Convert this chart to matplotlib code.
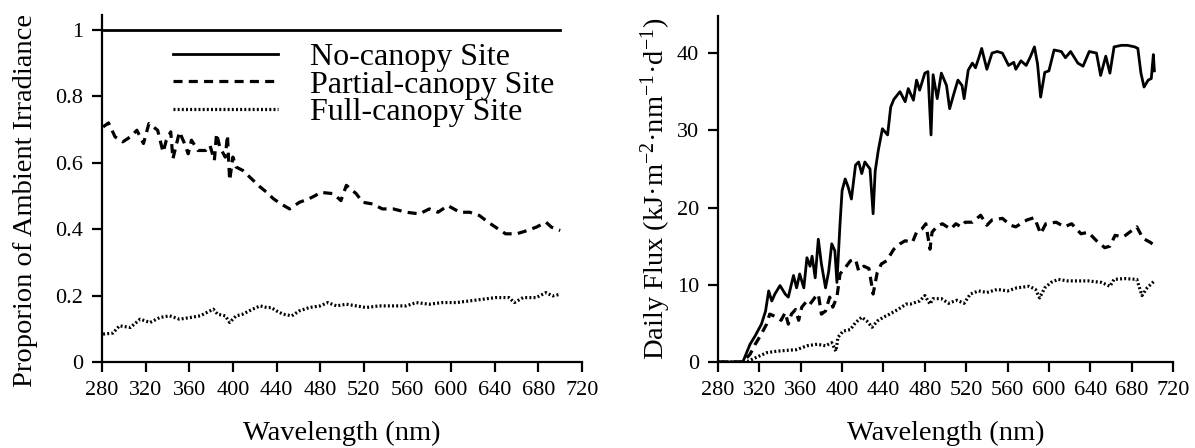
import matplotlib
matplotlib.use("Agg")
import matplotlib.pyplot as plt

plt.rcParams['font.family'] = ['Liberation Serif', 'DejaVu Serif']
plt.rcParams['mathtext.fontset'] = 'custom'
plt.rcParams['mathtext.rm'] = 'Liberation Serif'
plt.rcParams['mathtext.it'] = 'Liberation Serif:italic'
plt.rcParams['lines.scale_dashes'] = False

# ---------------- data ----------------
series_names = ["No-canopy Site", "Partial-canopy Site", "Full-canopy Site"]
xticks = [280, 320, 360, 400, 440, 480, 520, 560, 600, 640, 680, 720]

# Proportion of ambient irradiance
prop_none_wl = [280, 700]
prop_none = [1.0, 1.0]

prop_partial_wl = [281, 286, 292, 299, 306, 312, 318, 323, 327, 331, 336, 339, 343,
                   345, 351, 355, 359, 362, 368, 375, 379, 383, 385, 388, 393, 395,
                   397, 400, 403, 409, 417, 425, 431, 437, 444, 452, 461, 470, 476,
                   480, 492, 499, 504, 513, 519, 528, 537, 547, 559, 571, 580, 588,
                   597, 608, 617, 626, 634, 643, 650, 660, 670, 678, 687, 692, 700]
prop_partial = [0.708, 0.720, 0.678, 0.663, 0.678, 0.698, 0.658, 0.718, 0.708, 0.698,
                0.632, 0.668, 0.693, 0.612, 0.693, 0.663, 0.627, 0.668, 0.637, 0.637,
                0.652, 0.607, 0.688, 0.647, 0.617, 0.683, 0.547, 0.617, 0.587, 0.577,
                0.552, 0.527, 0.511, 0.492, 0.476, 0.461, 0.481, 0.492, 0.502, 0.511,
                0.507, 0.486, 0.532, 0.507, 0.481, 0.476, 0.461, 0.461, 0.451, 0.446,
                0.461, 0.451, 0.471, 0.451, 0.451, 0.441, 0.421, 0.401, 0.386, 0.386,
                0.396, 0.406, 0.421, 0.406, 0.396]

prop_full_wl = [281, 290, 296, 306, 315, 324, 333, 342, 351, 361, 370, 376, 382, 386,
                393, 397, 403, 409, 418, 425, 431, 435, 440, 446, 454, 461, 470, 480,
                487, 495, 504, 513, 522, 534, 547, 559, 568, 580, 592, 605, 617, 629,
                641, 653, 658, 666, 678, 687, 693, 700]
prop_full = [0.084, 0.087, 0.109, 0.104, 0.129, 0.119, 0.134, 0.139, 0.129, 0.134,
             0.139, 0.149, 0.159, 0.144, 0.139, 0.119, 0.139, 0.144, 0.159, 0.169,
             0.164, 0.164, 0.154, 0.144, 0.139, 0.154, 0.164, 0.169, 0.179, 0.169,
             0.174, 0.169, 0.164, 0.169, 0.169, 0.169, 0.179, 0.174, 0.179, 0.179,
             0.184, 0.189, 0.194, 0.194, 0.179, 0.194, 0.194, 0.209, 0.199, 0.204]

# Daily flux (kJ m-2 nm-1 d-1)
flux_none_wl = [280, 300, 304, 311, 316, 322, 326, 329, 332, 335, 340, 345, 348, 353,
                356, 359, 363, 366, 369, 371, 374, 377, 380, 384, 387, 390, 393, 395,
                398, 400, 403, 406, 409, 413, 416, 419, 422, 427, 430, 432, 435, 439,
                444, 447, 450, 456, 461, 464, 469, 472, 475, 480, 483, 486, 488, 492,
                496, 501, 504, 508, 512, 516, 518, 522, 526, 529, 532, 535, 540, 545,
                550, 555, 561, 566, 568, 573, 578, 582, 586, 589, 592, 596, 600, 605,
                612, 616, 621, 628, 633, 639, 646, 650, 655, 659, 663, 670, 676, 683,
                686, 689, 692, 696, 699, 701, 702]
flux_none = [0, 0, 0, 2.3, 3.4, 4.9, 6.6, 9.2, 7.9, 8.8, 9.9, 8.8, 8.4, 11.2,
             9.6, 11.4, 9.6, 13.5, 12.4, 13.7, 10.9, 15.9, 12.7, 9.6, 11.7, 15.3, 14.4, 10.3,
             17.9, 22.2, 23.7, 22.6, 21.1, 25.5, 25.9, 24.4, 25.9, 25.0, 19.2, 24.7, 27.4, 30.2,
             29.4, 33.0, 34.0, 35.0, 33.7, 35.4, 33.9, 36.5, 35.2, 37.4, 37.6, 29.4, 37.2, 34.1,
             37.4, 35.8, 32.8, 34.7, 36.5, 35.8, 34.1, 37.8, 38.7, 38.1, 39.3, 40.6, 37.9, 40.0,
             40.2, 40.0, 38.4, 38.8, 37.9, 39.0, 38.4, 39.5, 40.8, 38.6, 34.3, 37.5, 37.7, 40.4,
             40.2, 39.4, 40.2, 38.7, 38.3, 40.2, 40.0, 37.1, 39.6, 37.4, 40.8, 41.0, 41.0, 40.8,
             40.6, 37.4, 35.6, 36.5, 36.7, 39.8, 37.7]

flux_partial_wl = [280, 300, 304, 311, 316, 321, 327, 330, 337, 341, 345, 348, 351, 355,
                   358, 361, 366, 369, 374, 377, 380, 384, 388, 391, 395, 398, 403, 408,
                   413, 416, 421, 426, 430, 434, 438, 443, 450, 456, 461, 468, 472, 477,
                   481, 485, 487, 492, 497, 505, 510, 515, 519, 526, 534, 540, 545, 555,
                   563, 568, 575, 579, 586, 592, 597, 607, 615, 622, 631, 638, 646, 654,
                   659, 664, 672, 680, 685, 691, 698, 702]
flux_partial = [0, 0, 0, 1.0, 2.3, 3.4, 4.9, 6.2, 5.8, 5.4, 6.4, 4.9, 6.2, 6.8,
                5.4, 7.1, 7.9, 7.5, 8.4, 8.8, 6.2, 6.6, 8.4, 7.1, 8.4, 11.4, 12.2, 13.1,
                13.3, 11.8, 12.4, 12.1, 8.8, 11.6, 12.7, 13.1, 14.6, 15.3, 15.7, 15.5, 16.8, 17.2,
                17.9, 14.6, 16.8, 17.6, 17.9, 17.2, 17.9, 17.5, 18.1, 18.1, 19.0, 17.7, 18.4, 18.6,
                17.7, 17.5, 18.1, 18.4, 18.7, 16.6, 17.9, 18.1, 17.5, 17.9, 16.6, 16.8, 15.7, 14.8,
                15.0, 16.4, 16.2, 17.0, 17.5, 16.0, 15.5, 15.1]

flux_full_wl = [280, 300, 304, 309, 317, 327, 337, 346, 356, 366, 376, 384, 390, 394,
                396, 401, 408, 413, 419, 424, 429, 434, 440, 446, 454, 462, 466, 475,
                480, 485, 488, 496, 503, 511, 518, 524, 532, 540, 550, 560, 569, 581,
                587, 591, 596, 602, 609, 618, 628, 638, 651, 659, 663, 673, 685, 690,
                695, 702]
flux_full = [0, 0, 0, 0.1, 0.6, 1.2, 1.4, 1.5, 1.6, 2.1, 2.3, 2.1, 2.5, 1.4,
             3.2, 4.0, 4.2, 5.1, 5.8, 5.3, 4.5, 5.3, 5.8, 6.2, 6.8, 7.5, 7.5, 7.9,
             8.6, 7.5, 8.2, 8.2, 7.6, 8.0, 7.6, 8.8, 9.2, 9.0, 9.4, 9.2, 9.6, 9.8,
             9.4, 8.3, 9.6, 10.3, 10.7, 10.5, 10.5, 10.5, 10.3, 9.8, 10.7, 10.8, 10.7, 8.6,
             9.6, 10.5]

# ---------------- styling ----------------
SOLID = dict(color='black', lw=2.0, linestyle='-')
DASHED = dict(color='black', lw=2.3, linestyle=(0, (6.5, 4.5)))
DOTTED = dict(color='black', lw=2.3, linestyle=(0, (1.4, 1.6)))

fig = plt.figure(figsize=(11.95, 4.48), dpi=100)
ax1 = fig.add_axes([102 / 1195, 1 - 362 / 448, 480 / 1195, 347 / 448])
ax2 = fig.add_axes([718 / 1195, 1 - 362 / 448, 455 / 1195, 346 / 448])


def style_axes(ax):
    for side in ('top', 'right'):
        ax.spines[side].set_visible(False)
    for side in ('left', 'bottom'):
        ax.spines[side].set_linewidth(1.6)
    ax.tick_params(direction='out', length=7.5, width=1.6, labelsize=16, pad=6,
                   colors='black')
    ax.set_xlim(280, 720)
    ax.set_xticks(xticks)
    ax.set_xticklabels([str(t) for t in xticks])
    ax.set_xlabel("Wavelength (nm)", fontsize=20.5, labelpad=15)


# Left panel: proportions
ax1.plot(prop_none_wl, prop_none, label=series_names[0], **SOLID)
ax1.plot(prop_partial_wl, prop_partial, label=series_names[1], **DASHED)
ax1.plot(prop_full_wl, prop_full, label=series_names[2], **DOTTED)
style_axes(ax1)
ax1.set_ylim(0, 1.045)
ax1.set_yticks([0, 0.2, 0.4, 0.6, 0.8, 1.0])
ax1.set_yticklabels(["0", "0.2", "0.4", "0.6", "0.8", "1"])
ax1.set_ylabel("Proporion of Ambient Irradiance", fontsize=20.5)
ax1.yaxis.set_label_coords(-0.134, 0.465)
ax1.legend(loc='upper left', bbox_to_anchor=(0.148, 0.921), frameon=False,
           fontsize=23, handlelength=3.3, handletextpad=1.0, labelspacing=-0.05,
           borderpad=0, borderaxespad=0)

# Right panel: daily flux
ax2.plot(flux_none_wl, flux_none, **SOLID)
ax2.plot(flux_partial_wl, flux_partial, **DASHED)
ax2.plot(flux_full_wl, flux_full, **DOTTED)
style_axes(ax2)
ax2.set_ylim(0, 44.8)
ax2.set_yticks([0, 10, 20, 30, 40])
ax2.set_ylabel("Daily Flux (kJ\u00b7m$^{-2}$\u00b7nm$^{-1}$\u00b7d$^{-1}$)", fontsize=20.5)
ax2.yaxis.set_label_coords(-0.098, 0.5)

fig.savefig("out.png", dpi=100)
